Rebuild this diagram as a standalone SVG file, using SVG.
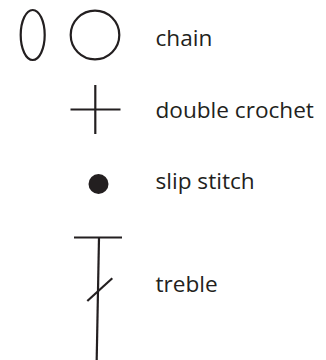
<svg xmlns="http://www.w3.org/2000/svg" width="326" height="360" viewBox="0 0 326 360">
<style>
.s{fill:none;stroke:#231f20;stroke-width:2.2}
.t{font-family:"Open Sans","Noto Sans",sans-serif;font-size:22.6px;fill:#231f20}
</style>
<rect width="326" height="360" fill="#fff"/>
<g id="chain">
<ellipse class="s" cx="32.7" cy="35" rx="12" ry="25"/>
<circle class="s" cx="95" cy="35" r="24.3"/>
<text class="t" x="155.5" y="46">chain</text>
</g>
<g id="double-crochet">
<line class="s" x1="70.5" y1="109.5" x2="120.5" y2="109.5"/>
<line class="s" x1="95.3" y1="85" x2="95.3" y2="134"/>
<text class="t" x="155.5" y="117.5">double crochet</text>
</g>
<g id="slip-stitch">
<circle cx="98.5" cy="184" r="10" fill="#231f20"/>
<text class="t" x="155.5" y="189">slip stitch</text>
</g>
<g id="treble">
<line class="s" x1="74" y1="237.5" x2="122" y2="237.5"/>
<line class="s" x1="99" y1="237.5" x2="96.7" y2="360"/>
<line class="s" x1="87.3" y1="301" x2="112.3" y2="278.3"/>
<text class="t" x="155.5" y="292.3">treble</text>
</g>
<g id="connectors"/>
</svg>
